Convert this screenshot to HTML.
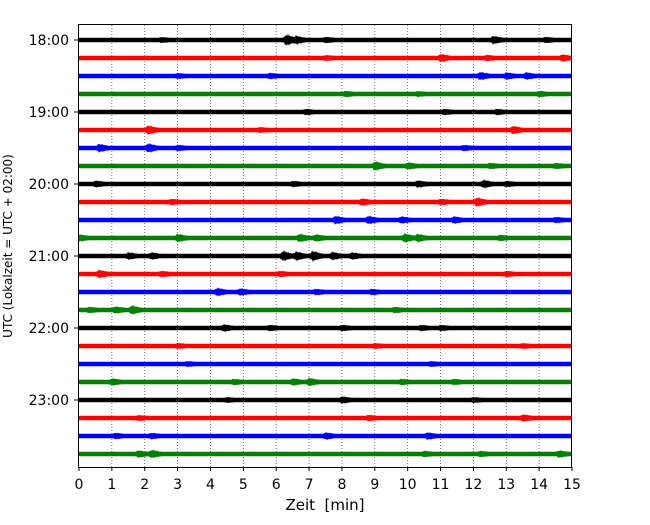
<!DOCTYPE html>
<html><head><meta charset="utf-8"><style>
body{margin:0;background:#fff;font-family:"Liberation Sans","DejaVu Sans",sans-serif;}
</style></head><body>
<svg id="chart" width="650" height="520" xmlns="http://www.w3.org/2000/svg" font-family="DejaVu Sans, Liberation Sans, sans-serif">
<rect width="650" height="520" fill="#fff"/>
<g id="grid"></g>
<g id="traces"></g>
<rect x="78.5" y="24.5" width="493" height="443" fill="none" stroke="#000" stroke-width="1"/>
<g id="axes"></g>
<text x="325" y="510" font-size="15" text-anchor="middle" xml:space="preserve">Zeit  [min]</text>
<text transform="translate(12,246) rotate(-90)" font-size="12" text-anchor="middle">UTC (Lokalzeit = UTC + 02:00)</text>
</svg>
<script>
const xTicks=[0,1,2,3,4,5,6,7,8,9,10,11,12,13,14,15];
const yTickLabels=["18:00","19:00","20:00","21:00","22:00","23:00"];
const colors=["#000","#f00","#00f","#008000"];
const ev0=[[6.3,7],[6.6,4],[7.5,2],[12.6,4],[14.2,2],[2.5,1.5]];
const ev1=[[11,4],[14.7,3],[12.4,2],[7.5,1.5]];
const ev2=[[12.2,4],[13.6,3],[5.8,2],[3,1.5],[13,3]];
const ev3=[[8.1,2],[10.3,1.5],[14,2]];
const ev4=[[11.1,2],[6.9,2],[12.7,2]];
const ev5=[[2.1,5],[13.2,4],[5.5,1.5]];
const ev6=[[0.6,4],[2.1,5],[3,2],[11.7,2]];
const ev7=[[9,5],[10,3],[12.5,2],[14.5,2]];
const ev8=[[0.5,2.5],[6.5,2],[10.3,3],[12.3,4],[13,2]];
const ev9=[[12.1,5],[8.6,3],[2.8,2],[11,2]];
const ev10=[[7.8,4],[8.8,4],[9.8,3],[11.4,3],[14.5,2]];
const ev11=[[0,3],[3,4],[6.7,4],[7.2,3],[9.9,5],[10.3,4],[12.8,2]];
const ev12=[[6.2,6],[7.1,6],[6.6,5],[7.7,4],[1.5,3],[2.2,3],[8.3,3]];
const ev13=[[0.6,4],[2.5,2],[6.1,2],[13,2]];
const ev14=[[4.2,4],[4.9,3],[8.9,2],[7.2,2]];
const ev15=[[1.6,5],[1.1,3],[0.3,2],[9.6,2]];
const ev16=[[4.4,3],[5.8,2],[8,2],[10.4,2],[11,2]];
const ev17=[[3,1.5],[9,1.5],[13.5,1.5]];
const ev18=[[3.3,1.5],[10.7,1.5]];
const ev19=[[1,3],[7,4],[6.5,3],[4.7,2],[9.8,2],[11.4,2]];
const ev20=[[8,3],[4.5,1.5],[12,1.5]];
const ev21=[[13.5,3],[8.8,2],[1.8,1.5]];
const ev22=[[7.5,3],[10.6,3],[1.1,2],[2.2,2]];
const ev23=[[2.2,4],[1.8,3],[12.2,2],[14.6,3],[10.5,2]];
const events=[ev0,ev1,ev2,ev3,ev4,ev5,ev6,ev7,ev8,ev9,ev10,ev11,ev12,ev13,ev14,ev15,ev16,ev17,ev18,ev19,ev20,ev21,ev22,ev23];
const X0=79,X1=572,Y0=40,DY=18;
const xs=m=>X0+(X1-X0)*m/15;
const ys=i=>Y0+i*DY;
const NS="http://www.w3.org/2000/svg";
const grid=document.getElementById('grid'),tr=document.getElementById('traces'),ax=document.getElementById('axes');
xTicks.forEach(t=>{
  if(t>0&&t<15){const l=document.createElementNS(NS,'line');
  
  
  l.setAttribute('x1',xs(t));l.setAttribute('x2',xs(t));l.setAttribute('y1',25);l.setAttribute('y2',467);
  l.setAttribute('stroke','#555');l.setAttribute('stroke-width','0.8');l.setAttribute('stroke-dasharray','1,2');grid.appendChild(l);}
  const k=document.createElementNS(NS,'line');
  
  
  k.setAttribute('x1',xs(t));k.setAttribute('x2',xs(t));k.setAttribute('y1',467);k.setAttribute('y2',471);k.setAttribute('stroke','#000');ax.appendChild(k);
  const tx=document.createElementNS(NS,'text');
  
  
  tx.setAttribute('x',xs(t));tx.setAttribute('y',489);tx.setAttribute('font-size','14');tx.setAttribute('text-anchor','middle');tx.textContent=t;ax.appendChild(tx);
});
yTickLabels.forEach((s,j)=>{
  const y=ys(j*4);
  const k=document.createElementNS(NS,'line');
  
  
  k.setAttribute('x1',74);k.setAttribute('x2',78);k.setAttribute('y1',y);k.setAttribute('y2',y);k.setAttribute('stroke','#000');ax.appendChild(k);
  const tx=document.createElementNS(NS,'text');
  
  
  tx.setAttribute('x',69);tx.setAttribute('y',y+5);tx.setAttribute('font-size','14');tx.setAttribute('text-anchor','end');tx.textContent=s;ax.appendChild(tx);
});
const spike=[1,0.45,0.8,0.3,0.95,0.5,0.65,0.35];
events.forEach((ev,i)=>{
  const y=ys(i);const top=[],bot=[];
  for(let px=X0;px<=X1;px+=1){
    const m=(px-X0)/(X1-X0)*15;let h=0;
    ev.forEach(([c,a])=>{const d=m-c;const w=d<0?0.05:0.2;h+=0.65*a*Math.exp(-(d/w)*(d/w));});
    const s1=spike[(px+i)%8],s2=spike[(px+i+3)%8];
    top.push(px+','+(y-2.2-h*s1).toFixed(1));bot.unshift(px+','+(y+2.2+h*s2).toFixed(1));
  }
  const p=document.createElementNS(NS,'polygon');
  
  
  p.setAttribute('points',top.concat(bot).join(' '));p.setAttribute('fill',colors[i%4]);
  tr.appendChild(p);
});
</script>
</body></html>
